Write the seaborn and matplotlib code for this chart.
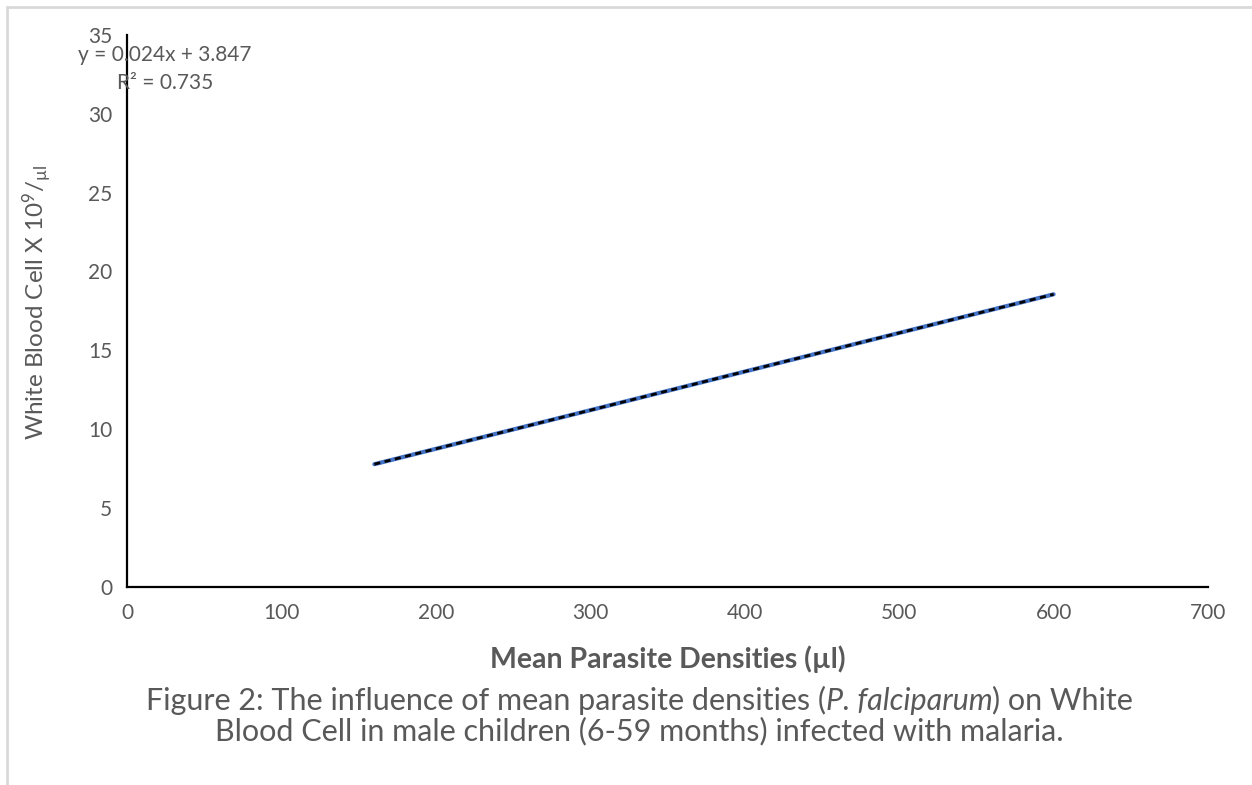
import matplotlib
matplotlib.use("Agg")
import matplotlib.pyplot as plt
import seaborn as sns
import pandas as pd
from matplotlib.patches import Rectangle
from matplotlib.offsetbox import TextArea, HPacker, AnnotationBbox

# ---- data ----
parasite_density = [160, 600]
wbc = [7.77, 18.55]
trend_x = [160, 600]
trend_y = [7.77, 18.55]
x_ticks = [0, 100, 200, 300, 400, 500, 600, 700]
y_ticks = [0, 5, 10, 15, 20, 25, 30, 35]
equation_text = "y = 0.024x + 3.847\nR² = 0.735"
x_label = "Mean Parasite Densities (µl)"
y_label = r"White Blood Cell X 10$^{9}$/$_{\mathregular{µl}}$"
caption_1_parts = [("Figure 2: The influence of mean parasite densities (", "normal"),
                   ("P. falciparum", "italic"),
                   (") on White", "normal")]
caption_2 = "Blood Cell in male children (6-59 months) infected with malaria."

sns.set_theme(style="white")
plt.rcParams["font.family"] = ["Lato", "DejaVu Sans"]
plt.rcParams["mathtext.default"] = "regular"
plt.rcParams["mathtext.fontset"] = "custom"
plt.rcParams["mathtext.rm"] = "Lato"
plt.rcParams["mathtext.it"] = "Lato:italic"

grey = "#595959"
W, H = 1252, 785
fig = plt.figure(figsize=(W / 100, H / 100), dpi=100)
fig.patch.set_facecolor("white")
ax = fig.add_axes([127.3 / W, 1 - 586.7 / H, (1208 - 127.3) / W, (586.7 - 35) / H])

df = pd.DataFrame({"x": parasite_density, "y": wbc})
tdf = pd.DataFrame({"x": trend_x, "y": trend_y})
sns.lineplot(data=df, x="x", y="y", ax=ax, color="#4472C4", linewidth=3.0,
             solid_capstyle="round")
sns.lineplot(data=tdf, x="x", y="y", ax=ax, color="black", linewidth=2.0,
             dashes=False, linestyle=(0, (2.2, 1.6)))

ax.set_xlim(0, 700)
ax.set_ylim(0, 35)
ax.set_xticks(x_ticks)
ax.set_yticks(y_ticks)
for s in ["top", "right"]:
    ax.spines[s].set_visible(False)
for s in ["left", "bottom"]:
    ax.spines[s].set_color("black")
    ax.spines[s].set_linewidth(1.6)
ax.tick_params(axis="both", which="major", direction="out", length=5, width=1.6,
               color="black", labelcolor=grey, labelsize=15)
ax.tick_params(axis="y", pad=6)
ax.tick_params(axis="x", pad=7)
ax.set_xlabel(x_label, fontsize=20.5, fontweight="bold", color=grey, labelpad=16)
ax.set_ylabel(y_label, fontsize=17.5, color=grey)
ax.yaxis.set_label_coords(-0.068, 0.515)

ax.text(165 / W, 1 - 69 / H, equation_text, transform=fig.transFigure,
        ha="center", va="center", fontsize=15, color=grey, linespacing=1.45)

# caption line 1 (mixed upright / italic)
areas = [TextArea(t, textprops=dict(fontsize=22, color=grey, fontstyle=st))
         for t, st in caption_1_parts]
pack = HPacker(children=areas, pad=0, sep=0, align="baseline")
ab = AnnotationBbox(pack, (639.5 / W, 1 - 700 / H), xycoords="figure fraction",
                    box_alignment=(0.5, 0.5), frameon=False, pad=0)
fig.add_artist(ab)
fig.text(639.5 / W, 1 - 731 / H, caption_2,
         ha="center", va="center", fontsize=22, color=grey)

# light border
fig.patches.append(Rectangle((6.5 / W, -0.1), 1.2, 1.1 - 6.5 / H,
                             transform=fig.transFigure, fill=False,
                             edgecolor="#d9d9d9", linewidth=2.0, clip_on=False))

fig.savefig("out.png", dpi=100)
